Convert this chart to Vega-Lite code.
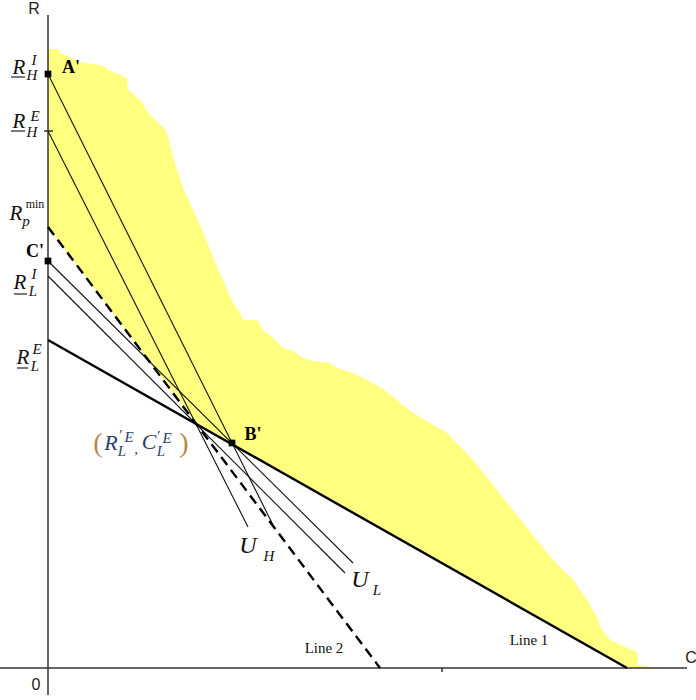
{
  "$schema": "https://vega.github.io/schema/vega-lite/v6.json",
  "width": 696,
  "height": 700,
  "autosize": {"type": "none"},
  "padding": 0,
  "config": {"view": {"stroke": null}},
  "datasets": {
    "area": [
      {"c":0,"top":619,"bot":441},{"c":10,"top":619,"bot":427.7},{"c":12,"top":615,"bot":425.1},
      {"c":32,"top":606,"bot":398.5},{"c":52,"top":603,"bot":371.9},{"c":65,"top":596,"bot":354.7},
      {"c":79,"top":590,"bot":336.1},{"c":80,"top":578,"bot":334.8},{"c":92,"top":568,"bot":318.8},
      {"c":102,"top":553,"bot":305.5},{"c":115,"top":541,"bot":288.3},{"c":119,"top":535,"bot":283.0},
      {"c":125,"top":511,"bot":275.0},{"c":135,"top":480,"bot":261.7},{"c":148.3,"top":451,"bot":244},
      {"c":152,"top":443,"bot":241.9},{"c":169,"top":401,"bot":232.3},{"c":185,"top":365,"bot":223.2},
      {"c":192,"top":355,"bot":219.2},{"c":195,"top":348,"bot":217.5},{"c":209,"top":348,"bot":209.6},
      {"c":215,"top":338,"bot":206.2},{"c":227,"top":328,"bot":199.4},{"c":235,"top":320,"bot":194.9},
      {"c":245,"top":317,"bot":189.2},{"c":255,"top":310,"bot":183.5},{"c":265,"top":307,"bot":177.9},
      {"c":282,"top":305,"bot":168.2},{"c":289,"top":300,"bot":164.3},{"c":302,"top":296,"bot":156.9},
      {"c":315,"top":290,"bot":149.6},{"c":332,"top":281,"bot":139.9},{"c":345,"top":271,"bot":132.6},
      {"c":365,"top":255,"bot":121.2},{"c":399,"top":235,"bot":102.0},{"c":425,"top":208,"bot":87.2},
      {"c":449,"top":178,"bot":73.6},{"c":475,"top":145,"bot":58.9},{"c":505,"top":108,"bot":41.9},
      {"c":525,"top":88,"bot":30.6},{"c":539,"top":68,"bot":22.7},{"c":549,"top":51,"bot":17.0},
      {"c":552,"top":41,"bot":15.3},{"c":562,"top":28,"bot":9.6},{"c":579,"top":20,"bot":0},
      {"c":589,"top":16,"bot":0},{"c":590,"top":3,"bot":0},{"c":605,"top":1,"bot":0}
    ],
    "seg": [
      {"kind":"axis","x1":-48,"y1":0,"x2":639,"y2":0},
      {"kind":"axis","x1":0,"y1":653,"x2":0,"y2":-27},
      {"kind":"tick","x1":-4,"y1":537,"x2":5,"y2":537},
      {"kind":"tick","x1":394,"y1":0,"x2":394,"y2":-4},
      {"kind":"line1","x1":0,"y1":328,"x2":579,"y2":0},
      {"kind":"line2","x1":0,"y1":441,"x2":332,"y2":0},
      {"kind":"thin","x1":0,"y1":594,"x2":225,"y2":143},
      {"kind":"thin","x1":0,"y1":537,"x2":200,"y2":141},
      {"kind":"thin","x1":0,"y1":407,"x2":305,"y2":105},
      {"kind":"thin","x1":0,"y1":392,"x2":297,"y2":95},
      {"kind":"under","x1":-37,"y1":591,"x2":-23,"y2":591},
      {"kind":"under","x1":-37,"y1":537,"x2":-23,"y2":537},
      {"kind":"under","x1":-34,"y1":374,"x2":-21,"y2":374},
      {"kind":"under","x1":-31,"y1":300,"x2":-20,"y2":300}
    ],
    "pts": [
      {"name":"A'","c":0,"r":594},
      {"name":"C'","c":0,"r":407},
      {"name":"B'","c":184,"r":225}
    ],
    "bigR": [
      {"t":"R","c":-29,"r":600},{"t":"R","c":-29,"r":546},{"t":"R","c":-32,"r":454},
      {"t":"R","c":-28,"r":385},{"t":"R","c":-25,"r":310}
    ],
    "bigU": [
      {"t":"U","c":200,"r":122},{"t":"U","c":312,"r":88}
    ],
    "scripts": [
      {"t":"I","c":-14,"r":608},{"t":"H","c":-16,"r":593},
      {"t":"E","c":-13,"r":552},{"t":"H","c":-16,"r":536},
      {"t":"I","c":-14,"r":394},{"t":"L","c":-15,"r":377},
      {"t":"E","c":-11,"r":319},{"t":"L","c":-13,"r":302},
      {"t":"p","c":-22,"r":447},
      {"t":"H","c":221,"r":112},{"t":"L","c":329,"r":78}
    ],
    "mins": [
      {"t":"min","c":-13,"r":464}
    ],
    "coordBig": [
      {"t":"R","c":63,"r":225},{"t":"C","c":101,"r":226}
    ],
    "coordSmall": [
      {"t":"′","c":72,"r":233},{"t":"E","c":81,"r":231},{"t":"L","c":74,"r":217},
      {"t":",","c":88,"r":219},
      {"t":"′","c":110,"r":232},{"t":"E","c":119,"r":230},{"t":"L","c":113,"r":217}
    ],
    "parens": [
      {"t":"(","c":50,"r":224},{"t":")","c":136,"r":224}
    ],
    "bold": [
      {"t":"A'","c":23,"r":600},{"t":"B'","c":205,"r":233},{"t":"C'","c":-13,"r":416}
    ],
    "axisLab": [
      {"t":"R","c":-14,"r":659},{"t":"C","c":643,"r":10},{"t":"0","c":-12,"r":-17}
    ],
    "lineLab": [
      {"t":"Line 2","c":276,"r":20},{"t":"Line 1","c":481,"r":28}
    ]
  },
  "layer": [
    {
      "data": {"name": "area"},
      "mark": {"type": "area", "color": "#ffff80", "opacity": 1},
      "encoding": {
        "x": {"field": "c", "type": "quantitative", "scale": {"domain": [-48, 648], "nice": false, "zero": false}, "axis": null},
        "y": {"field": "top", "type": "quantitative", "scale": {"domain": [-32, 668], "nice": false, "zero": false}, "axis": null},
        "y2": {"field": "bot"}
      }
    },
    {
      "data": {"name": "seg"},
      "transform": [{"filter": "datum.kind === 'axis' || datum.kind === 'tick'"}],
      "mark": {"type": "rule", "color": "#333333", "strokeWidth": 1.5},
      "encoding": {
        "x": {"field": "x1", "type": "quantitative", "scale": {"domain": [-48, 648], "nice": false, "zero": false}, "axis": null},
        "y": {"field": "y1", "type": "quantitative", "scale": {"domain": [-32, 668], "nice": false, "zero": false}, "axis": null},
        "x2": {"field": "x2"},
        "y2": {"field": "y2"}
      }
    },
    {
      "data": {"name": "seg"},
      "transform": [{"filter": "datum.kind === 'thin'"}],
      "mark": {"type": "rule", "color": "#111111", "strokeWidth": 1.1},
      "encoding": {
        "x": {"field": "x1", "type": "quantitative", "scale": {"domain": [-48, 648], "nice": false, "zero": false}, "axis": null},
        "y": {"field": "y1", "type": "quantitative", "scale": {"domain": [-32, 668], "nice": false, "zero": false}, "axis": null},
        "x2": {"field": "x2"},
        "y2": {"field": "y2"}
      }
    },
    {
      "data": {"name": "seg"},
      "transform": [{"filter": "datum.kind === 'under'"}],
      "mark": {"type": "rule", "color": "#222222", "strokeWidth": 1.2},
      "encoding": {
        "x": {"field": "x1", "type": "quantitative", "scale": {"domain": [-48, 648], "nice": false, "zero": false}, "axis": null},
        "y": {"field": "y1", "type": "quantitative", "scale": {"domain": [-32, 668], "nice": false, "zero": false}, "axis": null},
        "x2": {"field": "x2"},
        "y2": {"field": "y2"}
      }
    },
    {
      "data": {"name": "seg"},
      "transform": [{"filter": "datum.kind === 'line1'"}],
      "mark": {"type": "rule", "color": "#000000", "strokeWidth": 2.4},
      "encoding": {
        "x": {"field": "x1", "type": "quantitative", "scale": {"domain": [-48, 648], "nice": false, "zero": false}, "axis": null},
        "y": {"field": "y1", "type": "quantitative", "scale": {"domain": [-32, 668], "nice": false, "zero": false}, "axis": null},
        "x2": {"field": "x2"},
        "y2": {"field": "y2"}
      }
    },
    {
      "data": {"name": "seg"},
      "transform": [{"filter": "datum.kind === 'line2'"}],
      "mark": {"type": "rule", "color": "#000000", "strokeWidth": 2.4, "strokeDash": [10, 6]},
      "encoding": {
        "x": {"field": "x1", "type": "quantitative", "scale": {"domain": [-48, 648], "nice": false, "zero": false}, "axis": null},
        "y": {"field": "y1", "type": "quantitative", "scale": {"domain": [-32, 668], "nice": false, "zero": false}, "axis": null},
        "x2": {"field": "x2"},
        "y2": {"field": "y2"}
      }
    },
    {
      "data": {"name": "pts"},
      "mark": {"type": "square", "color": "#000000", "filled": true, "opacity": 1, "size": 45},
      "encoding": {
        "x": {"field": "c", "type": "quantitative", "scale": {"domain": [-48, 648], "nice": false, "zero": false}, "axis": null},
        "y": {"field": "r", "type": "quantitative", "scale": {"domain": [-32, 668], "nice": false, "zero": false}, "axis": null}
      }
    },
    {
      "data": {"name": "bigR"},
      "mark": {"type": "text", "font": "Liberation Serif", "fontStyle": "italic", "fontSize": 21, "color": "#111111", "align": "center", "baseline": "middle"},
      "encoding": {
        "x": {"field": "c", "type": "quantitative", "scale": {"domain": [-48, 648], "nice": false, "zero": false}, "axis": null},
        "y": {"field": "r", "type": "quantitative", "scale": {"domain": [-32, 668], "nice": false, "zero": false}, "axis": null},
        "text": {"field": "t"}
      }
    },
    {
      "data": {"name": "bigU"},
      "mark": {"type": "text", "font": "Liberation Serif", "fontStyle": "italic", "fontSize": 24, "color": "#111111", "align": "center", "baseline": "middle"},
      "encoding": {
        "x": {"field": "c", "type": "quantitative", "scale": {"domain": [-48, 648], "nice": false, "zero": false}, "axis": null},
        "y": {"field": "r", "type": "quantitative", "scale": {"domain": [-32, 668], "nice": false, "zero": false}, "axis": null},
        "text": {"field": "t"}
      }
    },
    {
      "data": {"name": "scripts"},
      "mark": {"type": "text", "font": "Liberation Serif", "fontStyle": "italic", "fontSize": 15, "color": "#111111", "align": "center", "baseline": "middle"},
      "encoding": {
        "x": {"field": "c", "type": "quantitative", "scale": {"domain": [-48, 648], "nice": false, "zero": false}, "axis": null},
        "y": {"field": "r", "type": "quantitative", "scale": {"domain": [-32, 668], "nice": false, "zero": false}, "axis": null},
        "text": {"field": "t"}
      }
    },
    {
      "data": {"name": "mins"},
      "mark": {"type": "text", "font": "Liberation Serif", "fontSize": 12, "color": "#111111", "align": "center", "baseline": "middle"},
      "encoding": {
        "x": {"field": "c", "type": "quantitative", "scale": {"domain": [-48, 648], "nice": false, "zero": false}, "axis": null},
        "y": {"field": "r", "type": "quantitative", "scale": {"domain": [-32, 668], "nice": false, "zero": false}, "axis": null},
        "text": {"field": "t"}
      }
    },
    {
      "data": {"name": "coordBig"},
      "mark": {"type": "text", "font": "Liberation Serif", "fontStyle": "italic", "fontSize": 22, "color": "#2e3f6e", "align": "center", "baseline": "middle"},
      "encoding": {
        "x": {"field": "c", "type": "quantitative", "scale": {"domain": [-48, 648], "nice": false, "zero": false}, "axis": null},
        "y": {"field": "r", "type": "quantitative", "scale": {"domain": [-32, 668], "nice": false, "zero": false}, "axis": null},
        "text": {"field": "t"}
      }
    },
    {
      "data": {"name": "coordSmall"},
      "mark": {"type": "text", "font": "Liberation Serif", "fontStyle": "italic", "fontSize": 15, "color": "#2e3f6e", "align": "center", "baseline": "middle"},
      "encoding": {
        "x": {"field": "c", "type": "quantitative", "scale": {"domain": [-48, 648], "nice": false, "zero": false}, "axis": null},
        "y": {"field": "r", "type": "quantitative", "scale": {"domain": [-32, 668], "nice": false, "zero": false}, "axis": null},
        "text": {"field": "t"}
      }
    },
    {
      "data": {"name": "parens"},
      "mark": {"type": "text", "font": "Liberation Serif", "fontSize": 28, "color": "#b8874a", "align": "center", "baseline": "middle"},
      "encoding": {
        "x": {"field": "c", "type": "quantitative", "scale": {"domain": [-48, 648], "nice": false, "zero": false}, "axis": null},
        "y": {"field": "r", "type": "quantitative", "scale": {"domain": [-32, 668], "nice": false, "zero": false}, "axis": null},
        "text": {"field": "t"}
      }
    },
    {
      "data": {"name": "bold"},
      "mark": {"type": "text", "font": "Liberation Serif", "fontWeight": "bold", "fontSize": 18, "color": "#000000", "align": "center", "baseline": "middle"},
      "encoding": {
        "x": {"field": "c", "type": "quantitative", "scale": {"domain": [-48, 648], "nice": false, "zero": false}, "axis": null},
        "y": {"field": "r", "type": "quantitative", "scale": {"domain": [-32, 668], "nice": false, "zero": false}, "axis": null},
        "text": {"field": "t"}
      }
    },
    {
      "data": {"name": "axisLab"},
      "mark": {"type": "text", "font": "Liberation Sans", "fontSize": 16, "color": "#222222", "align": "center", "baseline": "middle"},
      "encoding": {
        "x": {"field": "c", "type": "quantitative", "scale": {"domain": [-48, 648], "nice": false, "zero": false}, "axis": null},
        "y": {"field": "r", "type": "quantitative", "scale": {"domain": [-32, 668], "nice": false, "zero": false}, "axis": null},
        "text": {"field": "t"}
      }
    },
    {
      "data": {"name": "lineLab"},
      "mark": {"type": "text", "font": "Liberation Serif", "fontSize": 15, "color": "#111111", "align": "center", "baseline": "middle"},
      "encoding": {
        "x": {"field": "c", "type": "quantitative", "scale": {"domain": [-48, 648], "nice": false, "zero": false}, "axis": null},
        "y": {"field": "r", "type": "quantitative", "scale": {"domain": [-32, 668], "nice": false, "zero": false}, "axis": null},
        "text": {"field": "t"}
      }
    }
  ]
}
